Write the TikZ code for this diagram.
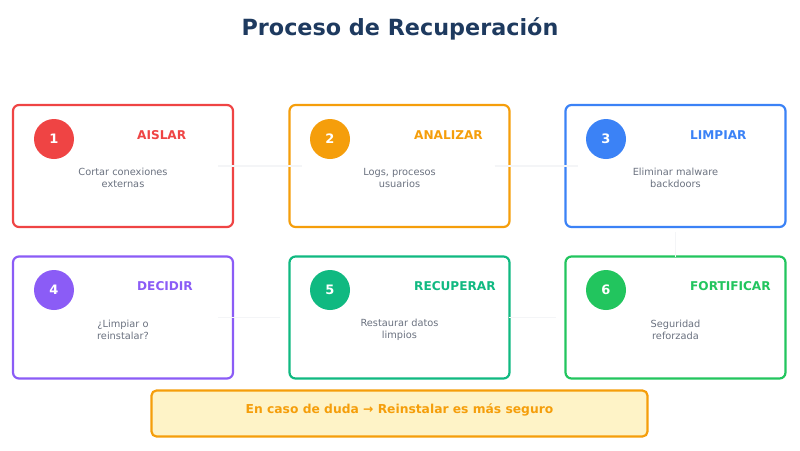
\documentclass[tikz,border=0pt]{standalone}
\usepackage{fontspec}
\setmainfont{DejaVu Sans}
\usetikzlibrary{positioning}

\definecolor{cRed}{HTML}{EF4444}
\definecolor{cOrange}{HTML}{F59E0B}
\definecolor{cBlue}{HTML}{3B82F6}
\definecolor{cPurple}{HTML}{8B5CF6}
\definecolor{cTeal}{HTML}{10B981}
\definecolor{cGreen}{HTML}{22C55E}
\definecolor{cText}{HTML}{6B7280}
\definecolor{cTitle}{HTML}{1E3A5F}
\definecolor{cNote}{HTML}{FEF3C7}
\definecolor{cLink}{HTML}{F4F5F7}

\tikzset{
  card/.style={draw, line width=2.2pt, rounded corners=6pt, fill=white,
    minimum width=220pt, minimum height=122pt, inner sep=0pt},
  numdot/.style={circle, minimum size=40pt, inner sep=0pt, text=white,
    font=\fontsize{13}{15}\selectfont\bfseries},
  cardtitle/.style={anchor=west, inner sep=0pt, font=\fontsize{12.1}{15}\selectfont\bfseries},
  carddesc/.style={align=center, inner sep=0pt, text=cText, font=\fontsize{9.8}{12}\selectfont},
  link/.style={draw=cLink, line width=1.5pt}
}

\begin{document}
\begin{tikzpicture}[x=1pt, y=-1pt]
    \useasboundingbox (0,0) rectangle (800,450);

    % Title
    \node[text=cTitle, font=\fontsize{22.3}{26}\selectfont\bfseries] (title) at (400,28.5) {Proceso de Recuperación};

    % Card centres
    \coordinate (r1) at (123,166);
    \coordinate (r2) at (399.5,166);
    \coordinate (r3) at (675.5,166);
    \coordinate (r4) at (123,317.5);
    \coordinate (r5) at (399.5,317.5);
    \coordinate (r6) at (675.5,317.5);

    % Row 1 cards
    \node[card, draw=cRed] (aislar) at (r1) {};
    \node[card, draw=cOrange] (analizar) at (r2) {};
    \node[card, draw=cBlue] (limpiar) at (r3) {};

    % Row 2 cards
    \node[card, draw=cPurple] (decidir) at (r4) {};
    \node[card, draw=cTeal] (recuperar) at (r5) {};
    \node[card, draw=cGreen] (fortificar) at (r6) {};

    % Links between the cards (very faint)
    \draw[link] ([xshift=-16pt]aislar.east) -- ([xshift=14pt]analizar.west);
    \draw[link] ([xshift=-16pt]analizar.east) -- ([xshift=14pt]limpiar.west);
    \draw[link] ([yshift=-4pt]limpiar.south) -- ([yshift=-2pt]fortificar.north);
    \draw[link] ([xshift=-16pt]decidir.east) -- ([xshift=-8pt]recuperar.west);
    \draw[link] ([xshift=-2pt]recuperar.east) -- ([xshift=-8pt]fortificar.west);

    % Numbers
    \node[numdot, fill=cRed] (n1) at (54,139) {1};
    \node[numdot, fill=cOrange] (n2) at (330,139) {2};
    \node[numdot, fill=cBlue] (n3) at (606,139) {3};
    \node[numdot, fill=cPurple] (n4) at (54,290) {4};
    \node[numdot, fill=cTeal] (n5) at (330,290) {5};
    \node[numdot, fill=cGreen] (n6) at (606,290) {6};

    % Step names
    \node[cardtitle, text=cRed] (t1) at (137,135) {AISLAR};
    \node[cardtitle, text=cOrange] (t2) at (414,135) {ANALIZAR};
    \node[cardtitle, text=cBlue] (t3) at (690,135) {LIMPIAR};
    \node[cardtitle, text=cPurple] (t4) at (137,286.5) {DECIDIR};
    \node[cardtitle, text=cTeal] (t5) at (414,286.5) {RECUPERAR};
    \node[cardtitle, text=cGreen] (t6) at (690,286.5) {FORTIFICAR};

    % Descriptions
    \node[carddesc] (d1) at (123,178) {Cortar conexiones\\externas};
    \node[carddesc] (d2) at (399.5,178) {Logs, procesos\\usuarios};
    \node[carddesc] (d3) at (675.5,178) {Eliminar malware\\backdoors};
    \node[carddesc] (d4) at (123,329.5) {¿Limpiar o\\reinstalar?};
    \node[carddesc] (d5) at (399.5,329.5) {Restaurar datos\\limpios};
    \node[carddesc] (d6) at (675.5,329.5) {Seguridad\\reforzada};

    % Note at the bottom
    \node[draw=cOrange, fill=cNote, line width=2.2pt, rounded corners=5pt,
      minimum width=496pt, minimum height=46pt, inner sep=0pt] (note) at (399.5,413.5) {};
    \node[text=cOrange, font=\fontsize{12.3}{15}\selectfont\bfseries] (notetext) at (399.5,409.5)
      {En caso de duda → Reinstalar es más seguro};
\end{tikzpicture}
\end{document}
